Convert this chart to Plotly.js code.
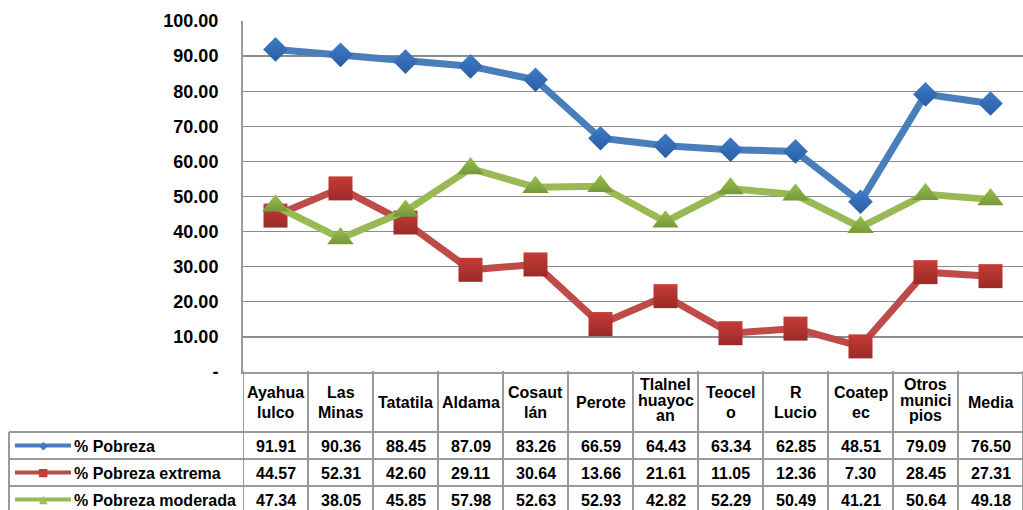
<!DOCTYPE html>
<html>
<head>
<meta charset="utf-8">
<script src="https://cdn.plot.ly/plotly-3.0.1.min.js"></script>
<style>html,body{margin:0;padding:0;background:#fff;}#chart{width:1023px;height:510px;}</style>
</head>
<body>
<div id="chart"></div>
<script>
// ---- data ----
const categoryLines = [
  ["Ayahua","lulco"], ["Las","Minas"], ["Tatatila"], ["Aldama"], ["Cosaut","lán"], ["Perote"],
  ["Tlalnel","huayoc","an"], ["Teocel","o"], ["R","Lucio"], ["Coatep","ec"], ["Otros","munici","pios"], ["Media"]
];
const categories = categoryLines.map(l => l.join(""));
const seriesNames = ["% Pobreza", "% Pobreza extrema", "% Pobreza moderada"];
const pobreza  = [91.91, 90.36, 88.45, 87.09, 83.26, 66.59, 64.43, 63.34, 62.85, 48.51, 79.09, 76.50];
const extrema  = [44.57, 52.31, 42.60, 29.11, 30.64, 13.66, 21.61, 11.05, 12.36,  7.30, 28.45, 27.31];
const moderada = [47.34, 38.05, 45.85, 57.98, 52.63, 52.93, 42.82, 52.29, 50.49, 41.21, 50.64, 49.18];
const tickValues = [0, 10, 20, 30, 40, 50, 60, 70, 80, 90, 100];
const tickLabels = ["-", "10.00", "20.00", "30.00", "40.00", "50.00", "60.00", "70.00", "80.00", "90.00", "100.00"];

// ---- styles ----
const W = 1023, H = 510;
const py = p => 1 - p / H;
const px = p => p / W;
const lineColors = ["#4a7ebb", "#be4b48", "#98b954"];
const markerColors = ["#3d7ccb", "#c63c38", "#98c04a"];
const markerDark = ["#2a5d9f", "#9a2a27", "#76983a"];
const symbols = ["diamond", "square", "triangle-up"];
const sizes = [19, 24, 23];
const keyGlyphs = ["◆", "■", "▲"];
const allSeries = [pobreza, extrema, moderada];
const FAM = "Liberation Sans, Arial, sans-serif";
const tableFont = {family: FAM, size: 16, color: "#000", weight: "bold"};
const gridGray = "#8c8c8c";
const tableGray = "#9a9a9a";

const xIdx = categories.map((c, i) => i);
const traces = allSeries.map((vals, s) => ({
  type: "scatter", mode: "lines+markers", name: seriesNames[s],
  x: xIdx, y: vals,
  line: {color: lineColors[s], width: 7},
  marker: {symbol: symbols[s], size: sizes[s], color: markerColors[s],
           gradient: {type: "vertical", color: markerDark[s]},
           line: {width: 0}},
  cliponaxis: false, showlegend: false, hoverinfo: "skip"
}));

// table geometry (pixels)
const headerTop = 373, headerBottom = 432, rowH = 27, legendLeft = 9;
const annotations = [];
const shapes = [];

// header labels: one annotation per line
categoryLines.forEach((lines, i) => {
  const n = lines.length;
  const spacing = n >= 3 ? 15.5 : 20;
  const center = n >= 3 ? 400 : 402.5;
  lines.forEach((t, k) => {
    const cy = center + (k - (n - 1) / 2) * spacing;
    annotations.push({
      xref: "x", yref: "paper", x: i, y: py(cy), text: t, showarrow: false,
      xanchor: "center", yanchor: "middle", font: tableFont
    });
  });
});
// data rows
allSeries.forEach((vals, s) => {
  const cy = headerBottom + rowH * s + rowH / 2 + 1;
  vals.forEach((v, i) => {
    annotations.push({
      xref: "x", yref: "paper", x: i, y: py(cy), text: v.toFixed(2), showarrow: false,
      xanchor: "center", yanchor: "middle", font: tableFont
    });
  });
  annotations.push({
    xref: "paper", yref: "paper", x: px(72), y: py(cy), text: seriesNames[s], showarrow: false,
    xanchor: "left", yanchor: "middle", font: tableFont
  });
  shapes.push({type: "line", xref: "paper", yref: "paper", x0: px(15), x1: px(71), y0: py(cy - 1), y1: py(cy - 1),
               line: {color: lineColors[s], width: 4}});
  annotations.push({
    xref: "paper", yref: "paper", x: px(43), y: py(cy - 1), text: keyGlyphs[s], showarrow: false,
    xanchor: "center", yanchor: "middle", font: {family: "DejaVu Sans", size: 11, color: markerColors[s]}
  });
});
// table vertical lines at category boundaries
for (let i = 0; i <= categories.length; i++) {
  shapes.push({type: "line", xref: "x", yref: "paper", x0: i - 0.5, x1: i - 0.5,
               y0: py(headerTop - 2), y1: py(H), line: {color: tableGray, width: 2}});
}
shapes.push({type: "line", xref: "paper", yref: "paper", x0: px(legendLeft), x1: px(legendLeft),
             y0: py(headerBottom), y1: py(H), line: {color: tableGray, width: 2}});
for (let r = 0; r < allSeries.length; r++) {
  shapes.push({type: "line", xref: "paper", yref: "paper", x0: px(legendLeft), x1: 1,
               y0: py(headerBottom + r * rowH), y1: py(headerBottom + r * rowH),
               line: {color: tableGray, width: 2}});
}

const layout = {
  width: W, height: H,
  margin: {l: 0, r: 0, t: 0, b: 0, pad: 0},
  paper_bgcolor: "#fff", plot_bgcolor: "#fff",
  showlegend: false,
  xaxis: {domain: [px(243), 1], range: [-0.5, categories.length - 0.5], showgrid: false, zeroline: false,
          showticklabels: false, ticks: "", showline: true, linecolor: tableGray, linewidth: 2, fixedrange: true},
  yaxis: {domain: [py(372), py(21)], range: [0, 100], tickvals: tickValues, ticktext: tickLabels,
          showgrid: true, gridcolor: gridGray, gridwidth: 1.3, zeroline: false,
          showline: true, linecolor: tableGray, linewidth: 2, ticks: "", ticklabelstandoff: 19,
          tickfont: {family: FAM, size: 18, color: "#000", weight: "bold"},
          fixedrange: true},
  font: {family: FAM},
  annotations: annotations,
  shapes: shapes
};

Plotly.newPlot("chart", traces, layout, {staticPlot: true, displayModeBar: false});
</script>
</body>
</html>
